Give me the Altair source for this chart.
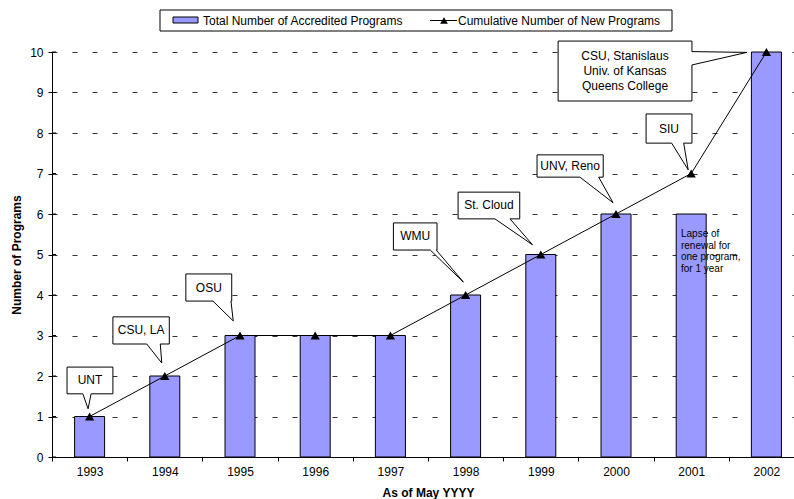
import altair as alt
import pandas as pd

# ---------------- data ----------------
years = [1993, 1994, 1995, 1996, 1997, 1998, 1999, 2000, 2001, 2002]
total_accredited = [1, 2, 3, 3, 3, 4, 5, 6, 6, 10]
cumulative_new = [1, 2, 3, 3, 3, 4, 5, 6, 7, 10]
y_ticks = [0, 1, 2, 3, 4, 5, 6, 7, 8, 9, 10]

series_bar = "Total Number of Accredited Programs"
series_line = "Cumulative Number of New Programs"
x_title = "As of May YYYY"
y_title = "Number of Programs"

# callout annotations (placed in data units: years / program counts)
callout_labels = ["UNT", "CSU, LA", "OSU", "WMU", "St. Cloud", "UNV, Reno", "SIU",
                  "CSU, Stanislaus\nUniv. of Kansas\nQueens College"]
callout_boxes = [(1992.70, 1993.31, 1.56, 2.22), (1993.31, 1994.06, 2.79, 3.46),
                 (1994.28, 1994.89, 3.85, 4.52), (1997.04, 1997.62, 5.11, 5.78),
                 (1997.90, 1998.72, 5.88, 6.54), (1998.95, 1999.83, 6.91, 7.46),
                 (2000.40, 2001.01, 7.75, 8.47), (1999.23, 2001.01, 8.79, 10.27)]
callout_sides = ["bottom"] * 7 + ["right"]
callout_bases = [(1992.91, 1993.02), (1993.76, 1993.94), (1994.64, 1994.88),
                 (1997.53, 1997.61), (1998.39, 1998.59), (1999.52, 1999.77),
                 (2000.74, 2000.90), (9.68, 10.01)]
callout_tips = [(1992.98, 1.19), (1993.96, 2.32), (1994.91, 3.36), (1997.97, 4.32),
                (1998.89, 5.24), (1999.96, 6.28), (2000.96, 7.09), (2001.74, 9.99)]

note_text = "Lapse of\nrenewal for\none program,\nfor 1 year"
note_pos = (2000.864, 5.506)

# ---------------- frames ----------------
df = pd.DataFrame({"year": years, "total": total_accredited, "cum": cumulative_new})
tick_df = pd.DataFrame({"v": y_ticks})

poly_rows, text_rows = [], []
for lab, (x1, x2, yl, yh), side, base, tip in zip(
        callout_labels, callout_boxes, callout_sides, callout_bases, callout_tips):
    if side == "bottom":
        pts = [(x1, yh), (x2, yh), (x2, yl), (base[1], yl), tip, (base[0], yl), (x1, yl)]
    else:
        pts = [(x1, yh), (x2, yh), (x2, base[1]), tip, (x2, base[0]), (x2, yl), (x1, yl)]
    for i, (px, py) in enumerate(pts):
        poly_rows.append({"label": lab, "i": i, "x": px, "y": py})
    text_rows.append({"label": lab, "x": (x1 + x2) / 2, "y": (yl + yh) / 2,
                      "n": lab.count("\n") + 1})
poly_df = pd.DataFrame(poly_rows)
text_df = pd.DataFrame(text_rows)
note_df = pd.DataFrame({"t": [note_text], "x": [note_pos[0]], "y": [note_pos[1]]})

FONT = "Liberation Sans"
FS = 12
LH = 15
x_scale = alt.Scale(domain=[years[0] - 0.5, years[-1] + 0.5], range=[0, 752],
                    nice=False, zero=False, padding=0)
y_scale = alt.Scale(domain=[0, 10], nice=False)

x_axis = alt.Axis(values=[y - 0.5 for y in years], labelExpr="format(datum.value + 0.5, 'd')",
                  labelOffset=37.6, tickSize=4, labelPadding=5, grid=False,
                  labelFlush=False, labelOverlap=False, labelBound=False,
                  title=x_title, titleFontWeight="bold", titlePadding=10)
y_axis = alt.Axis(values=y_ticks, tickSize=4, labelPadding=5, grid=True,
                  gridDash=[5, 15], gridColor="#333333", gridWidth=1,
                  title=y_title, titleFontWeight="bold", titleX=-29, titleY=202.5)

base = alt.Chart(df)
bars = base.mark_bar(size=30, fill="#9999FF", stroke="black", strokeWidth=1).encode(
    x=alt.X("year:Q", scale=x_scale, axis=x_axis),
    y=alt.Y("total:Q", scale=y_scale, axis=y_axis),
)
inner_ticks = alt.Chart(tick_df).mark_rule(color="black", strokeWidth=1).encode(
    x=alt.value(0), x2=alt.value(4), y=alt.Y("v:Q", scale=y_scale))
line = base.mark_line(color="black", strokeWidth=1).encode(
    x=alt.X("year:Q", scale=x_scale), y=alt.Y("cum:Q", scale=y_scale))
pts = base.mark_point(shape="triangle-up", filled=True, size=85, color="black", opacity=1).encode(
    x=alt.X("year:Q", scale=x_scale), y=alt.Y("cum:Q", scale=y_scale))

shapes = alt.Chart(poly_df).mark_line(interpolate="linear-closed", fill="white", stroke="black",
                                      strokeWidth=1).encode(
    x=alt.X("x:Q", scale=x_scale), y=alt.Y("y:Q", scale=y_scale),
    order="i:Q", detail="label:N")

label_layers = []
for n in sorted(text_df["n"].unique()):
    sub = text_df[text_df["n"] == n]
    label_layers.append(
        alt.Chart(sub).mark_text(font=FONT, fontSize=FS, lineBreak="\n", lineHeight=LH,
                                 align="center", baseline="middle", color="black",
                                 dy=-(int(n) - 1) * LH / 2).encode(
            x=alt.X("x:Q", scale=x_scale), y=alt.Y("y:Q", scale=y_scale), text="label:N"))

note = alt.Chart(note_df).mark_text(font=FONT, fontSize=10, lineBreak="\n", lineHeight=11.5,
                                    align="left", baseline="middle", color="black").encode(
    x=alt.X("x:Q", scale=x_scale), y=alt.Y("y:Q", scale=y_scale), text="t:N")

# ---------------- legend (drawn manually in the top padding) ----------------
one = pd.DataFrame({"k": [0]})
leg_box = alt.Chart(one).mark_rect(fill="white", stroke="black", strokeWidth=1).encode(
    x=alt.value(108), x2=alt.value(620), y=alt.value(-42), y2=alt.value(-21))
leg_sw = alt.Chart(one).mark_rect(fill="#9999FF", stroke="black", strokeWidth=1).encode(
    x=alt.value(121), x2=alt.value(146), y=alt.value(-35), y2=alt.value(-29))
leg_t1 = alt.Chart(one).mark_text(text=series_bar, font=FONT, fontSize=FS, align="left",
                                  baseline="middle", color="black").encode(
    x=alt.value(151), y=alt.value(-31.5))
leg_ln = alt.Chart(one).mark_rule(color="black", strokeWidth=1).encode(
    x=alt.value(378), x2=alt.value(405), y=alt.value(-31.5))
leg_tr = alt.Chart(one).mark_point(shape="triangle-up", filled=True, size=60, color="black",
                                   opacity=1).encode(x=alt.value(392), y=alt.value(-31.5))
leg_t2 = alt.Chart(one).mark_text(text=series_line, font=FONT, fontSize=FS, align="left",
                                  baseline="middle", color="black").encode(
    x=alt.value(406), y=alt.value(-31.5))

chart = alt.layer(bars, inner_ticks, line, pts, shapes, *label_layers, note,
                  leg_box, leg_sw, leg_t1, leg_ln, leg_tr, leg_t2).properties(
    width=742, height=405,
    autosize=alt.AutoSizeParams(type="none"),
    padding={"left": 52, "top": 52, "right": 0, "bottom": 42},
).configure_view(stroke=None).configure_axis(
    labelFont=FONT, titleFont=FONT, labelFontSize=FS, titleFontSize=FS,
    labelColor="black", titleColor="black", domainColor="black", tickColor="black",
)

chart.save("out.html", embed_options={"renderer": "svg", "actions": False})
